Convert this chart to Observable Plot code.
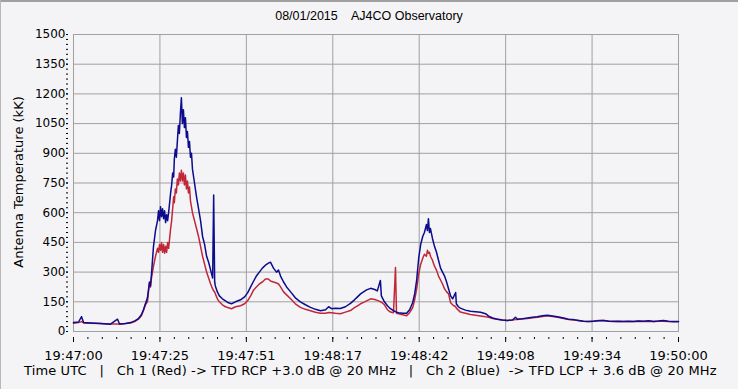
<!DOCTYPE html>
<html>
<head>
<meta charset="utf-8">
<script src="https://cdn.jsdelivr.net/npm/d3@7"></script>
<script src="https://cdn.jsdelivr.net/npm/@observablehq/plot@0.6"></script>
<style>
  html, body { margin: 0; padding: 0; background: #f4f4f6; }
  #wrap { position: relative; width: 738px; height: 389px; overflow: hidden; background: #f4f4f6; }
  #wrap svg { position: absolute; left: 0; top: 0; }
  .txt { position: absolute; white-space: pre; color: #000; }
  #title { top: 9px; left: 0; width: 738px; text-align: center; font: 12.5px "Liberation Sans", Arial, sans-serif; }
  #ylab { left: 18px; top: 182px; transform: translate(-50%, -50%) rotate(-90deg); font: 13px "DejaVu Sans", sans-serif; }
  #foot { top: 363px; left: 24px; font: 13px "DejaVu Sans", sans-serif; letter-spacing: 0.13px; }
  #bt { position: absolute; left: 0; top: 0; width: 738px; height: 2px; background: #a0a0a0; }
  #bl { position: absolute; left: 0; top: 0; width: 1px; height: 389px; background: #b8b8b8; }
</style>
</head>
<body>
<div id="wrap">
  <div id="title" class="txt">08/01/2015    AJ4CO Observatory</div>
  <div id="ylab" class="txt">Antenna Temperature (kK)</div>
  <div id="foot" class="txt">Time UTC   |   Ch 1 (Red) -&gt; TFD RCP +3.0 dB @ 20 MHz   |   Ch 2 (Blue)  -&gt; TFD LCP + 3.6 dB @ 20 MHz</div>
  <div id="bt"></div><div id="bl"></div>
</div>
<script>
// seconds after 19:47:00 UTC
const times = [0,1.5,2.4,3.0,5.1,8.0,11.0,13.1,13.7,15.5,17.0,18.4,19.3,20.2,20.8,21.4,22.0,22.6,22.9,23.2,23.8,24.4,25.0,25.3,25.6,25.9,26.2,26.5,26.8,27.1,27.4,27.7,28.0,28.3,28.6,28.9,29.2,29.5,29.8,30.0,30.3,30.6,30.9,31.2,31.5,31.8,32.1,32.4,32.7,33.0,33.3,33.6,33.9,34.2,34.5,34.8,35.1,35.4,36.0,36.6,37.2,37.8,38.4,39.0,39.6,40.2,40.8,41.4,41.7,42.0,42.2,42.8,43.4,44.3,45.2,46.1,47.0,48.2,49.7,50.9,51.8,52.7,53.6,54.4,55.3,56.2,57.1,58.0,58.6,59.5,60.4,61.0,61.6,62.5,63.4,64.6,66.0,67.5,69.0,70.5,72.0,73.5,75.0,75.9,76.8,77.9,79.4,80.9,82.4,83.6,84.5,85.4,86.3,87.2,88.4,89.6,90.4,91.3,91.6,92.5,93.4,94.3,95.2,95.8,96.1,96.7,97.9,99.1,100.0,100.9,101.5,102.1,102.7,103.3,103.9,104.4,105.0,105.3,105.6,105.9,106.2,106.8,107.4,108.0,108.6,109.2,109.8,110.4,111.0,111.6,112.2,112.8,113.7,113.9,114.5,115.1,116.6,118.1,119.6,121.1,122.6,123.5,124.7,126.1,127.6,129.1,130.6,131.5,132.1,133.6,135.1,136.6,138.0,139.5,141.0,142.5,144.0,145.8,147.3,148.8,150.2,151.7,153.2,154.7,156.2,157.7,159.2,160.7,162.1,163.6,165.1,166.6,168.1,169.6,171.1,172.6,174.0,175.5,177.0,178.5,180.0];
// Ch 2 (Blue) LCP, kK
const ch2Blue = [45,48,75,45,43,40,37,62,38,40,45,55,65,85,110,140,170,250,230,290,430,510,560,610,560,630,580,620,570,610,550,590,560,600,650,700,740,800,780,870,920,880,960,1040,1000,1100,1180,1050,1120,1030,1080,980,1010,930,960,880,900,820,750,680,620,560,480,440,380,350,310,270,690,250,230,200,180,165,155,145,140,150,160,175,195,225,255,280,300,320,335,345,350,320,300,310,280,250,225,200,170,150,135,122,112,105,110,125,115,118,116,125,142,160,175,190,200,210,218,212,205,258,180,150,130,115,105,100,98,95,92,92,110,145,190,260,370,440,480,500,540,510,570,500,520,470,430,400,360,320,300,280,250,215,180,165,197,140,125,118,108,102,100,97,90,78,68,62,58,56,58,72,62,64,68,72,74,80,82,78,74,68,62,60,56,52,50,52,54,56,52,50,52,50,52,51,53,52,54,51,53,56,52,50,50];
// Ch 1 (Red) RCP, kK
const ch1Red = [42,45,50,43,42,40,38,38,37,40,43,52,62,80,105,135,150,245,225,270,330,380,420,400,440,410,450,400,440,395,430,400,450,420,470,520,560,620,680,650,720,700,770,740,800,760,815,760,800,740,790,720,760,700,730,660,630,600,560,520,480,430,380,340,300,270,240,215,205,200,190,165,150,135,125,120,115,125,130,140,155,180,210,225,240,250,265,265,255,250,245,240,225,200,185,165,140,122,112,105,97,92,92,96,95,92,90,98,106,120,130,140,147,155,165,162,157,150,148,135,110,98,95,323,92,90,85,80,95,120,160,215,290,340,370,390,380,410,395,400,380,360,330,310,280,260,240,215,200,190,145,135,125,118,108,98,92,86,82,78,74,72,66,62,58,56,58,60,61,64,66,70,72,76,80,76,72,66,60,58,55,52,50,52,55,55,53,52,51,50,51,50,52,51,52,50,52,52,50,49,49];

const yTicks = d3.range(0, 1501, 150);
const yMinor = d3.range(0, 1501, 25);
const xTickLabels = ["19:47:00","19:47:25","19:47:51","19:48:17","19:48:42","19:49:08","19:49:34","19:50:00"];
const span = 180;
const xTicks = xTickLabels.map((_, i) => i * span / 7);
const xMinor = d3.range(0, 43).map(i => i * span / 42);

const rows = times.map((t, i) => ({t, blue: ch2Blue[i], red: ch1Red[i]}));

const grid = "#a0a0a0";
const chart = Plot.plot({
  width: 738,
  height: 389,
  marginTop: 34,
  marginBottom: 58,
  marginLeft: 73,
  marginRight: 60,
  style: {background: "transparent", fontFamily: "DejaVu Sans, sans-serif", fontSize: "12px", color: "#000"},
  x: {domain: [0, span], label: null},
  y: {domain: [0, 1500], label: null},
  marks: [
    Plot.frame({fill: "#f4f4f7", stroke: null}),
    Plot.gridX(xTicks, {stroke: grid, strokeOpacity: 1}),
    Plot.gridY(yTicks, {stroke: grid, strokeOpacity: 1}),
    Plot.frame({stroke: grid}),
    Plot.axisY(yMinor, {tickSize: 2, dx: -5, tickFormat: () => "", label: null}),
    Plot.axisY(yTicks, {tickSize: 2, dx: -5, tickPadding: 1, tickFormat: d => String(d), fontSize: 12, label: null}),
    Plot.axisX(xMinor, {tickSize: 2, dy: 6, tickFormat: () => "", label: null}),
    Plot.axisX(xTicks, {tickSize: 5, dy: 6, tickPadding: 8, fontSize: 13, tickFormat: d => xTickLabels[Math.round(d * 7 / span)], label: null}),
    Plot.line(rows, {x: "t", y: "red", stroke: "#c0283a", strokeWidth: 1.5}),
    Plot.line(rows, {x: "t", y: "blue", stroke: "#0c0c8c", strokeWidth: 1.5})
  ]
});
document.getElementById("wrap").prepend(chart);
</script>
</body>
</html>
